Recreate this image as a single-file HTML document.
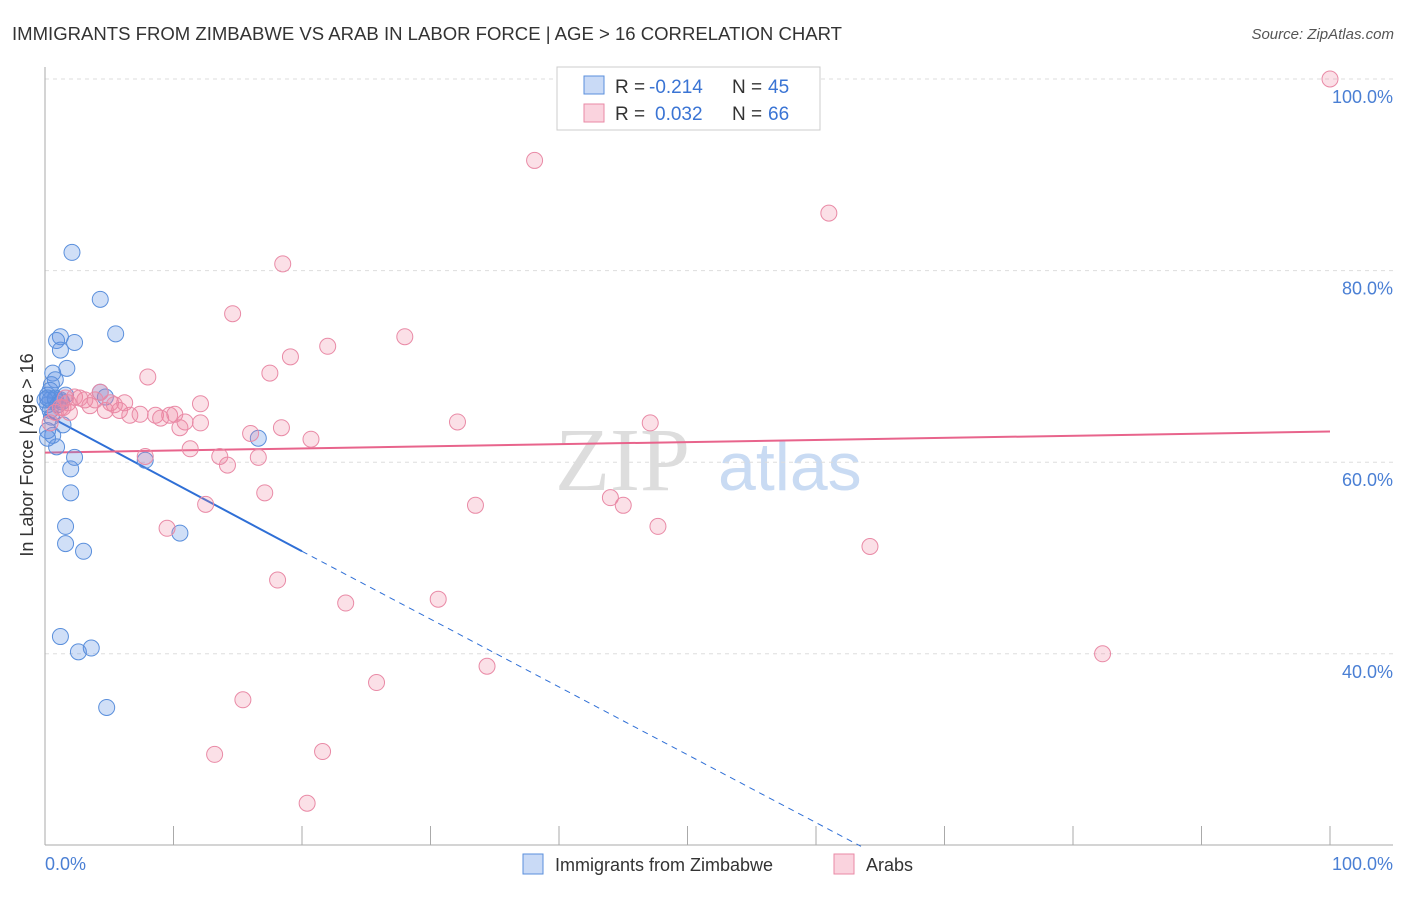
<!DOCTYPE html>
<html><head><meta charset="utf-8"><style>
body{margin:0;background:#fff;font-family:"Liberation Sans",sans-serif;}
</style></head><body>
<svg width="1406" height="892" viewBox="0 0 1406 892" xmlns="http://www.w3.org/2000/svg" font-family="Liberation Sans, sans-serif">
<text x="12" y="40" font-size="18" fill="#333" textLength="830" lengthAdjust="spacingAndGlyphs">IMMIGRANTS FROM ZIMBABWE VS ARAB IN LABOR FORCE | AGE &gt; 16 CORRELATION CHART</text>
<text x="1394" y="39" font-size="15" fill="#555" text-anchor="end" font-style="italic">Source: ZipAtlas.com</text>
<g><text x="555" y="490" font-size="90" fill="#ddd" font-family="Liberation Serif, serif">ZIP</text><text x="718" y="490" font-size="68" fill="#c9dbf3">atlas</text></g>
<g id="grid"></g>
<g id="axes"></g>
<text transform="translate(33,455) rotate(-90)" font-size="18" fill="#333" text-anchor="middle">In Labor Force | Age &gt; 16</text>
<text x="45" y="870" font-size="18" fill="#4a7fd4">0.0%</text>
<text x="1393" y="870" font-size="18" fill="#4a7fd4" text-anchor="end">100.0%</text>
<g id="lines"></g>
<g id="pts"></g>
<g>
<rect x="557" y="67" width="263" height="63" fill="#fff" stroke="#ccc"/>
<rect x="584" y="76" width="20" height="18" fill="rgba(100,150,230,0.35)" stroke="#5a8fdc"/>
<rect x="584" y="104" width="20" height="18" fill="rgba(240,130,160,0.35)" stroke="#e98aa6"/>
<text x="615" y="93" font-size="19" fill="#333">R =</text>
<text x="649" y="93" font-size="19" fill="#3a74d4">-0.214</text>
<text x="732" y="93" font-size="19" fill="#333">N =</text>
<text x="768" y="93" font-size="19" fill="#3a74d4">45</text>
<text x="615" y="120" font-size="19" fill="#333">R =</text>
<text x="655" y="120" font-size="19" fill="#3a74d4">0.032</text>
<text x="732" y="120" font-size="19" fill="#333">N =</text>
<text x="768" y="120" font-size="19" fill="#3a74d4">66</text>
</g>
<g>
<rect x="523" y="854" width="20" height="20" fill="rgba(100,150,230,0.35)" stroke="#5a8fdc"/>
<text x="555" y="871" font-size="18" fill="#333">Immigrants from Zimbabwe</text>
<rect x="834" y="854" width="20" height="20" fill="rgba(240,130,160,0.35)" stroke="#e98aa6"/>
<text x="866" y="871" font-size="18" fill="#333">Arabs</text>
</g>
</svg>
<script>
const yTicks=[100,80,60,40];
const blueX=[2.1,4.3,5.5,1.2,0.9,2.3,1.2,1.7,0.6,0.8,0.5,0.4,0.2,0.4,0.8,1.2,0.2,4.3,4.7,1.4,0.6,0.9,2.0,2.3,2.0,7.8,16.6,1.6,1.6,3.0,10.5,1.2,2.6,3.6,4.8,0.8,0.0,0.4,0.2,1.0,1.3,0.5,0.2,0.2,1.6];
const blueY=[81.9,77.0,73.4,73.1,72.7,72.5,71.7,69.8,69.3,68.6,68.1,67.5,67.0,66.5,66.5,66.5,66.0,67.3,66.8,63.9,62.8,61.6,59.3,60.5,56.8,60.2,62.5,53.3,51.5,50.7,52.6,41.8,40.2,40.6,34.4,66.7,66.5,65.4,66.7,66.0,66.3,64.7,63.3,62.5,67.0];
const pinkX=[100,38.1,61.0,18.5,14.6,28.0,22.0,19.1,17.5,8.0,4.3,2.3,3.1,3.5,5.1,5.8,6.6,7.4,8.6,9.7,10.5,10.9,12.1,12.1,4.7,1.4,16.0,18.4,20.7,11.3,14.2,13.6,16.6,7.8,32.1,47.1,17.1,12.5,33.5,44.0,45.0,47.7,9.5,64.2,18.1,23.4,30.6,34.4,25.8,82.3,15.4,13.2,21.6,20.4,1.2,0.8,1.8,2.7,3.9,6.2,9.0,10.1,5.4,1.9,0.4,1.6];
const pinkY=[100,91.5,86.0,80.7,75.5,73.1,72.1,71.0,69.3,68.9,67.3,66.8,66.5,65.9,66.2,65.4,64.9,65.0,64.9,64.9,63.6,64.2,66.1,64.1,65.4,65.7,63.0,63.6,62.4,61.4,59.7,60.6,60.5,60.6,64.2,64.1,56.8,55.6,55.5,56.3,55.5,53.3,53.1,51.2,47.7,45.3,45.7,38.7,37.0,40.0,35.2,29.5,29.8,24.4,65.7,65.2,66.2,66.7,66.5,66.2,64.6,65.0,66.0,65.2,64.1,66.7];
const blueTrend=[0,65.0,20,50.7,63.5,19.9];
const pinkTrend=[0,61.0,100,63.2];
const X=v=>45+v*12.85, Y=v=>79+(100-v)*9.58;
const NS='http://www.w3.org/2000/svg';
function mk(t,a,p){const e=document.createElementNS(NS,t);for(const k in a)e.setAttribute(k,a[k]);p.appendChild(e);return e;}
const grid=document.getElementById('grid'),axes=document.getElementById('axes');
yTicks.forEach(v=>{
const l=mk('line',{x1:45,x2:1393,y1:Y(v),y2:Y(v),stroke:'#ddd','stroke-dasharray':'4,4'},grid);


const t=mk('text',{x:1393,y:Y(v)+24,'font-size':18,fill:'#4a7fd4','text-anchor':'end'},grid);t.textContent=v.toFixed(1)+'%';


});
mk('line',{x1:45,x2:45,y1:67,y2:845,stroke:'#aaa'},axes);
mk('line',{x1:45,x2:1393,y1:845,y2:845,stroke:'#aaa'},axes);
for(let i=1;i<=10;i++){const t=mk('line',{x1:X(i*10),x2:X(i*10),y1:826,y2:845,stroke:'#aaa'},axes);

}
const L=document.getElementById('lines');
let b1=mk('line',{x1:X(blueTrend[0]),y1:Y(blueTrend[1]),x2:X(blueTrend[2]),y2:Y(blueTrend[3]),stroke:'#2f6fd6','stroke-width':2},L);


let b2=mk('line',{x1:X(blueTrend[2]),y1:Y(blueTrend[3]),x2:X(blueTrend[4]),y2:Y(blueTrend[5]),stroke:'#2f6fd6','stroke-width':1,'stroke-dasharray':'6,5'},L);


const P=document.getElementById('pts');
blueX.forEach((x,i)=>{const c=mk('circle',{cx:X(x),cy:Y(blueY[i]),r:8,fill:'rgba(100,150,230,0.3)',stroke:'#5a8fdc','stroke-width':1},P);

});
pinkX.forEach((x,i)=>{const c=mk('circle',{cx:X(x),cy:Y(pinkY[i]),r:8,fill:'rgba(240,130,160,0.25)',stroke:'#e98aa6','stroke-width':1},P);

});
let p1=mk('line',{x1:X(pinkTrend[0]),y1:Y(pinkTrend[1]),x2:X(pinkTrend[2]),y2:Y(pinkTrend[3]),stroke:'#e8648c','stroke-width':2},L);


</script>
</body></html>
